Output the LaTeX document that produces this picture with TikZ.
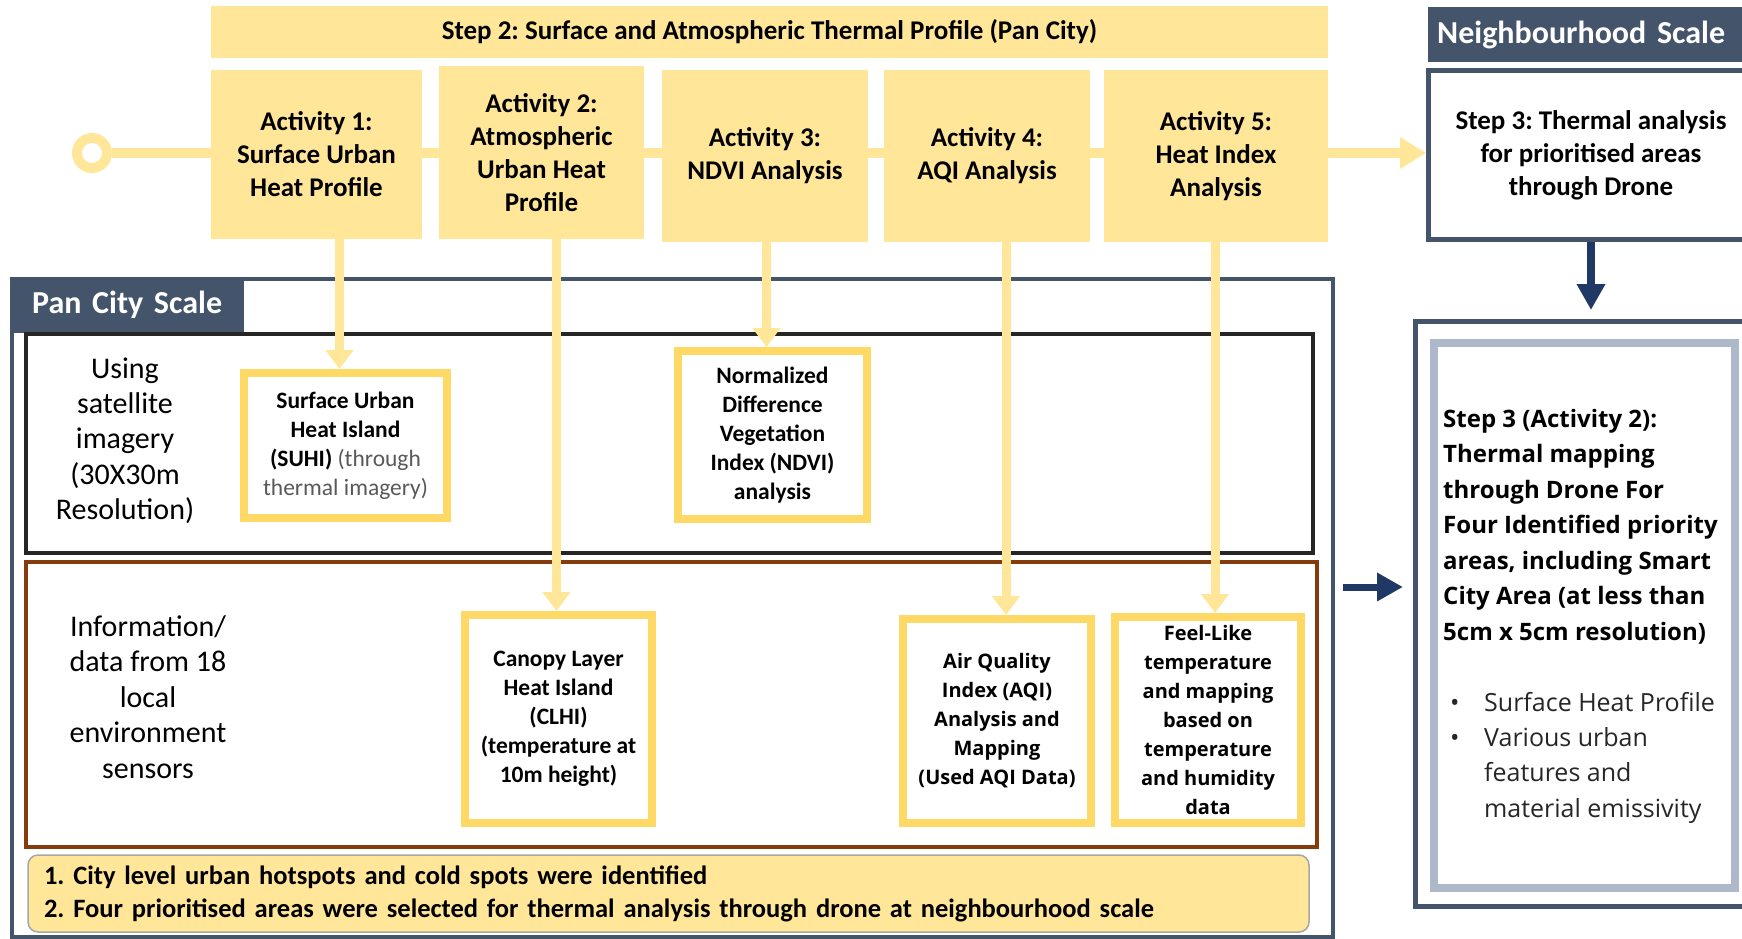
\documentclass[tikz,border=0pt]{standalone}
\usepackage{fontspec}
\setmainfont{Carlito}
\newfontfamily\segoe{Open Sans}
\usetikzlibrary{arrows.meta}
\frenchspacing
\definecolor{gold}{HTML}{FFE699}
\definecolor{goldline}{HTML}{FFD966}
\definecolor{slate}{HTML}{44546A}
\definecolor{navy}{HTML}{203864}
\definecolor{rust}{HTML}{843C0C}
\definecolor{steel}{HTML}{ADB9CA}
\definecolor{coal}{HTML}{262626}
\definecolor{ash}{HTML}{595959}
\newcommand*{\fs}[2]{\fontsize{#1}{#2}\selectfont}
\newcommand*{\feed}[3][0pt]{%
  \draw [feed] ([xshift=#1]#2.south -| #3.north) -- ([xshift=#1]#3.north);
}

\begin{document}
\begin{tikzpicture}[x=1pt, y=-1pt,
	every node/.style = {align=center, inner sep=0pt, text=black},
	activity/.style = {fill=gold, font=\bfseries\fs{27}{33}},
	result/.style = {draw=goldline, line width=8pt, fill=white, font=\bfseries\fs{23.5}{29}},
	frame/.style = {draw=#1, line width=4pt},
	header/.style = {fill=slate, text=white, font=\bfseries\fs{32}{38}, anchor=north west, align=left},
	rowlabel/.style = {font=\fs{30}{35.4}}]
		\tikzset{feed/.style = {draw=gold, line width=9pt, -{Triangle[length=19pt,width=27pt]}},
			push/.style = {draw=navy, line width=8pt, -{Triangle[length=26pt,width=27pt]}}}
		\useasboundingbox (0,0) rectangle (1742,939);
		\clip (0,0) rectangle (1742,939);
		% neighbourhood scale
		\node [header, minimum width=332pt, minimum height=55pt, inner xsep=9pt, text width=314pt] (nbhead) at (1428,7) {Neighbourhood Scale};
		\node [draw=slate, line width=5pt, fill=white, font=\bfseries\fs{27}{33}, minimum width=325pt, minimum height=169pt] (step3) at (1591,155) {Step 3: Thermal analysis\\for prioritised areas\\through Drone};
		\node [frame=slate, line width=5pt, minimum width=359pt, minimum height=585pt] (step3b) at (1595,614) {};
		\node [frame=steel, line width=8pt, minimum width=301pt, minimum height=545pt] (step3in) at (1584.5,615.5) {};
		\node [anchor=north west, align=left, font=\segoe\bfseries\fs{24}{35.5}] (step3text) at (1443,409) {Step 3 (Activity 2):\\Thermal mapping\\through Drone For\\Four Identified priority\\areas, including Smart\\City Area (at less than\\5cm x 5cm resolution)};
		\node [anchor=north west, align=left, text=coal, font=\segoe\fs{25}{35.3}] (step3list) at (1450,692) {%
			\makebox[34pt][l]{\textbullet}Surface Heat Profile\\
			\makebox[34pt][l]{\textbullet}Various urban\\
			\hspace*{34pt}features and\\
			\hspace*{34pt}material emissivity};
		% pan city scale
		\node [frame=slate, minimum width=1321pt, minimum height=658pt] (pancity) at (672.5,608) {};
		\node [header, minimum width=234pt, minimum height=56pt, inner xsep=22pt, text width=190pt] (pchead) at (10,277) {Pan City Scale};
		\node [frame=coal, minimum width=1287pt, minimum height=219pt] (satrow) at (669.5,443.5) {};
		\node [frame=rust, minimum width=1291pt, minimum height=285pt] (sensrow) at (671.5,704.5) {};
		\node [draw=gray!70, line width=1.5pt, fill=gold, rounded corners=10pt, minimum width=1281pt, minimum height=77pt,
			inner xsep=16pt, text width=1249pt, align=left, font=\bfseries\fs{26.5}{33}] (summary) at (668.5,893.5)
			{1. City level urban hotspots and cold spots were identified\\
			2. Four prioritised areas were selected for thermal analysis through drone at neighbourhood scale};
		\node [rowlabel] (satlabel) at (125,440.6) {Using\\satellite\\imagery\\(30X30m\\Resolution)};
		\node [rowlabel] (senslabel) at (148,697) {Information/\\data from 18\\local\\environment\\sensors};
		\node [result, minimum width=203pt, minimum height=145pt] (suhi) at (345.5,445.5)
			{Surface Urban\\Heat Island\\(SUHI) \textcolor{ash}{\mdseries(through}\\\textcolor{ash}{\mdseries thermal imagery)}};
		\node [result, minimum width=189pt, minimum height=168pt] (ndvi) at (772.5,435)
			{Normalized\\Difference\\Vegetation\\Index (NDVI)\\analysis};
		\node [result, minimum width=187pt, minimum height=208pt] (clhi) at (558.5,719)
			{Canopy Layer\\Heat Island\\(CLHI)\\(temperature at\\10m height)};
		\node [result, font=\segoe\bfseries\fs{20}{29}, minimum width=188pt, minimum height=204pt] (aqi) at (997,721)
			{Air Quality\\Index (AQI)\\Analysis and\\Mapping\\(Used AQI Data)};
		\node [result, font=\segoe\bfseries\fs{20}{29}, minimum width=186pt, minimum height=206pt] (feel) at (1208,720)
			{Feel-Like\\temperature\\and mapping\\based on\\temperature\\and humidity\\data};
		% step 2 activities
		\node [circle, draw=gold, line width=10pt, fill=white, minimum size=30pt] (ring) at (92,153) {};
		\draw [draw=gold, line width=10pt, -{Triangle[length=26pt,width=30pt]}] (ring.east) -- (ring.east -| step3.west);
		\node [fill=gold, font=\bfseries\fs{27}{30}, minimum width=1117pt, minimum height=52pt] (step2) at (769.5,32)
			{Step 2: Surface and Atmospheric Thermal Profile (Pan City)};
		\node [activity, minimum width=211pt, minimum height=169pt] (act1) at (316.5,154.5) {Activity 1:\\Surface Urban\\Heat Profile};
		\node [activity, minimum width=205pt, minimum height=173pt] (act2) at (541.5,152.5) {Activity 2:\\Atmospheric\\Urban Heat\\Profile};
		\node [activity, minimum width=206pt, minimum height=172pt] (act3) at (765,156) {Activity 3:\\NDVI Analysis};
		\node [activity, minimum width=206pt, minimum height=172pt] (act4) at (987,156) {Activity 4:\\AQI Analysis};
		\node [activity, minimum width=224pt, minimum height=172pt] (act5) at (1216,156) {Activity 5:\\Heat Index\\Analysis};
		\feed[-6pt]{act1}{suhi}
		\feed[-2pt]{act2}{clhi}
		\feed[-6pt]{act3}{ndvi}
		\feed[9pt]{act4}{aqi}
		\feed[7pt]{act5}{feel}
		\draw [push, shorten >=9pt] (step3.south) -- (step3.south |- step3b.north);
		\draw [push, line width=7pt, shorten >=10pt] ([xshift=8pt,yshift=21pt]pancity.east) -- ([yshift=21pt]pancity.east -| step3b.west);
\end{tikzpicture}
\end{document}
